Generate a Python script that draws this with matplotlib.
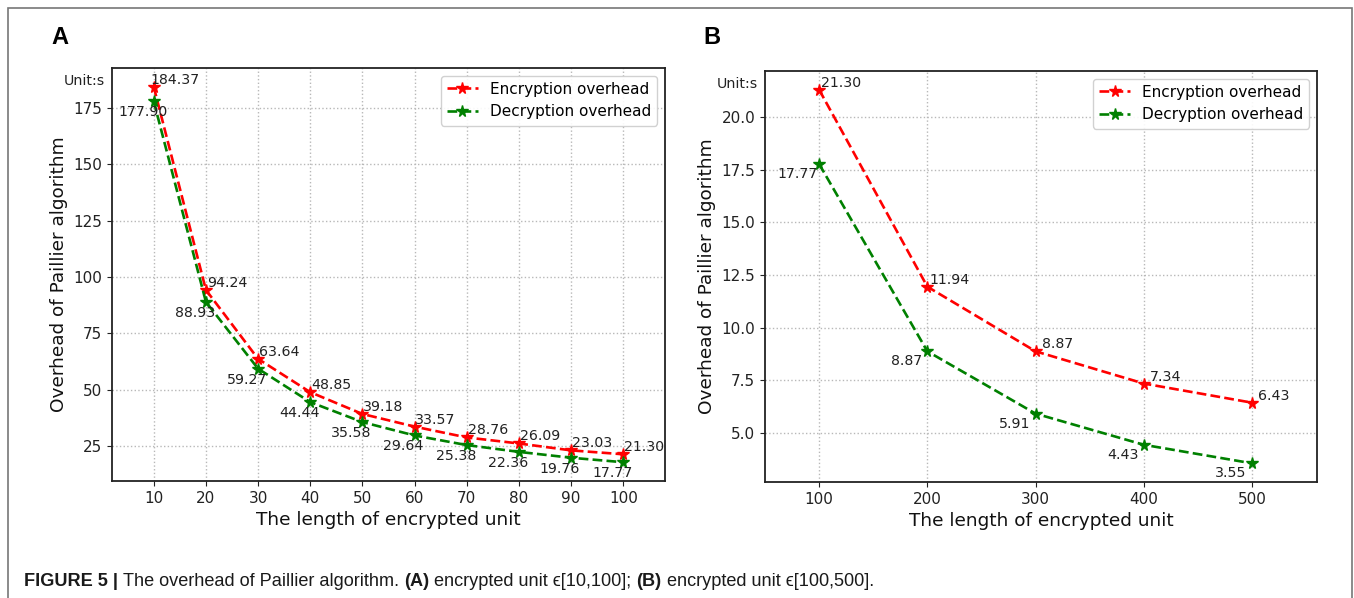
import matplotlib
matplotlib.use("Agg")
import matplotlib.pyplot as plt
from matplotlib import font_manager
from matplotlib.patches import Rectangle

# panel A: encrypted unit 10..100
unit_a = [10, 20, 30, 40, 50, 60, 70, 80, 90, 100]
enc_a = [184.37, 94.24, 63.64, 48.85, 39.18, 33.57, 28.76, 26.09, 23.03, 21.30]
dec_a = [177.90, 88.93, 59.27, 44.44, 35.58, 29.64, 25.38, 22.36, 19.76, 17.77]
yticks_a = [25, 50, 75, 100, 125, 150, 175]

# panel B: encrypted unit 100..500
unit_b = [100, 200, 300, 400, 500]
enc_b = [21.30, 11.94, 8.87, 7.34, 6.43]
dec_b = [17.77, 8.87, 5.91, 4.43, 3.55]
yticks_b = [5.0, 7.5, 10.0, 12.5, 15.0, 17.5, 20.0]

W, H = 1354, 598
installed = {f.name for f in font_manager.fontManager.ttflist}
caption_font = "Liberation Sans Narrow" if "Liberation Sans Narrow" in installed else "Liberation Sans"

plt.rcParams["font.family"] = ["DejaVu Sans"]
fig = plt.figure(figsize=(W / 100, H / 100), dpi=100)


def px_box(left, top, right, bottom):
    return [left / W, 1 - bottom / H, (right - left) / W, (bottom - top) / H]


def draw_panel(ax, x, enc, dec, yticks, xlim, enc_off, dec_off):
    ax.plot(x, enc, linestyle="--", color="red", marker="*", markersize=8.5,
            linewidth=1.9, label="Encryption overhead")
    ax.plot(x, dec, linestyle="--", color="green", marker="*", markersize=8.5,
            linewidth=1.9, label="Decryption overhead")
    for xi, yi in zip(x, enc):
        ax.annotate(f"{yi:.2f}", (xi, yi), xytext=enc_off, textcoords="offset pixels",
                    ha="center", va="bottom", fontsize=10.2, color="#222222")
    for xi, yi in zip(x, dec):
        ax.annotate(f"{yi:.2f}", (xi, yi), xytext=dec_off, textcoords="offset pixels",
                    ha="center", va="top", fontsize=10.2, color="#222222")
    ax.set_xticks(x)
    ax.set_xlim(*xlim)
    ax.set_yticks(yticks)
    ax.grid(True, linestyle=":", color="0.72", linewidth=1)
    ax.tick_params(labelsize=11, colors="#222222")
    for sp in ax.spines.values():
        sp.set_linewidth(1.3)
        sp.set_color("#222222")
    ax.set_xlabel("The length of encrypted unit", fontsize=13.3, color="#111111")
    ax.set_ylabel("Overhead of Paillier algorithm", fontsize=13.3, color="#111111")
    ax.text(-0.012, 0.985, "Unit:s", transform=ax.transAxes, ha="right", va="top",
            fontsize=10.3, color="#222222")
    ax.legend(loc="upper right", fontsize=11, handlelength=2, framealpha=0.9)


ax_a = fig.add_axes(px_box(112, 68, 665, 481))
draw_panel(ax_a, unit_a, enc_a, dec_a, yticks_a, (2, 108), (21, 0), (-11, -4))

ax_b = fig.add_axes(px_box(765, 71, 1317, 482))
draw_panel(ax_b, unit_b, enc_b, dec_b, yticks_b, (50, 560), (22, 0), (-21, -3))

fig.text(51 / W, 1 - 26 / H, "A", fontsize=17, fontweight="bold",
         family="Liberation Sans", va="top", ha="left")
fig.text(703 / W, 1 - 26 / H, "B", fontsize=17, fontweight="bold",
         family="Liberation Sans", va="top", ha="left")

# outer frame of the figure panel
fig.patches.append(Rectangle((8 / W, -0.05), (1352 - 8) / W, 1.05 - 8 / H,
                             transform=fig.transFigure, fill=False,
                             edgecolor="#777777", linewidth=1.2))

# caption, drawn piece by piece so that bold parts sit inline
segments = [
    ("FIGURE 5 | ", "bold"),
    ("The overhead of Paillier algorithm. ", "normal"),
    ("(A)", "bold"),
    (" encrypted unit \u03f5[10,100]; ", "normal"),
    ("(B)", "bold"),
    (" encrypted unit \u03f5[100,500].", "normal"),
]
renderer = fig.canvas.get_renderer()
x_px = 24
for text, weight in segments:
    t = fig.text(x_px / W, 1 - 582 / H, text, fontsize=13.1, fontweight=weight,
                 family=[caption_font, "DejaVu Sans"], va="center", ha="left",
                 color="#1a1a1a")
    x_px += t.get_window_extent(renderer).width

fig.savefig("out.png", dpi=100)
